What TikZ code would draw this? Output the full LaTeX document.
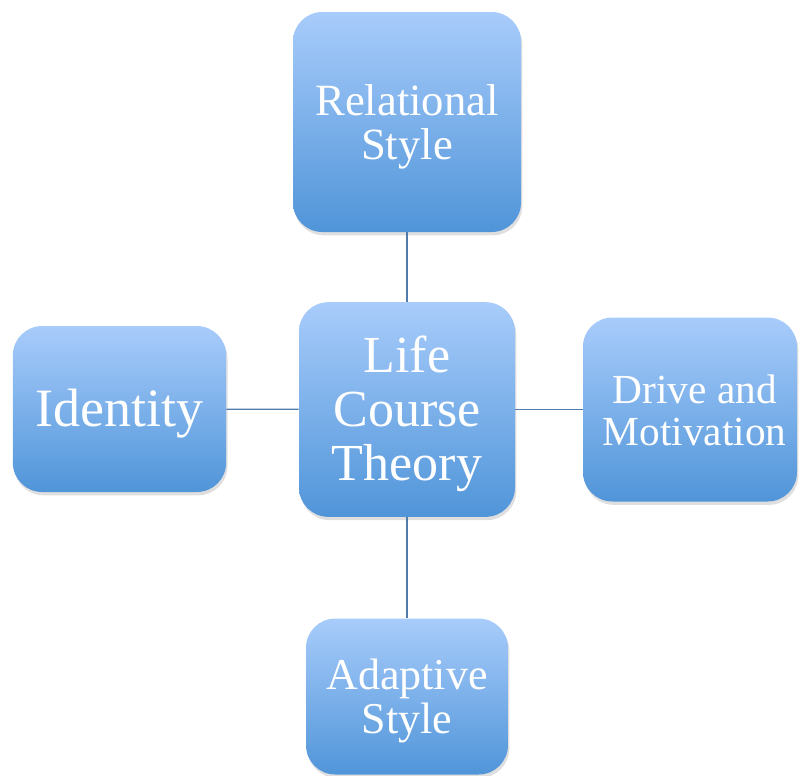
\documentclass[tikz,border=0pt]{standalone}
\usepackage{fontspec}
\setmainfont{Liberation Serif}
\usetikzlibrary{shadows}
\definecolor{boxtop}{RGB}{168,204,251}
\definecolor{boxbottom}{RGB}{80,149,217}
\definecolor{linkline}{RGB}{79,124,170}
\newcommand{\topictext}[1]{\raisebox{-5pt}[\height][\depth]{\begin{tabular}{@{}c@{}}#1\end{tabular}}}
\begin{document}
\begin{tikzpicture}[x=0.75pt,y=0.75pt,yscale=-1,xscale=1,
    topic/.style={rounded corners=22pt, top color=boxtop, bottom color=boxbottom, draw=none,
        text=white, inner sep=0pt,
        drop shadow={opacity=0.25, shadow xshift=1pt, shadow yshift=-2.5pt}},
    link/.style={draw=linkline, line width=1pt}]
    \useasboundingbox (0,0) rectangle (799,775);
    % centre and the four topics
    \node [topic, minimum width=162pt, minimum height=161pt, font=\fontsize{39}{40.5}\selectfont] (life) at (407,409.5) {\topictext{Life\\Course\\Theory}};
    \node [topic, minimum width=171pt, minimum height=165pt, font=\fontsize{33.5}{32.5}\selectfont] (relational) at (407,122) {\topictext{Relational\\Style}};
    \node [topic, minimum width=160pt, minimum height=124.5pt, font=\fontsize{40.5}{40}\selectfont] (identity) at (119.5,409) {\topictext{Identity}};
    \node [topic, minimum width=160.5pt, minimum height=138pt, font=\fontsize{31}{31.5}\selectfont] (drive) at (690,409.5) {\topictext{\hspace*{7pt}Drive and\\\hspace*{7pt}Motivation}};
    \node [topic, minimum width=151.5pt, minimum height=117pt, font=\fontsize{33}{33}\selectfont] (adaptive) at (407,696.5) {\topictext{Adaptive\\Style}};
    % links
    \draw [link] (relational) -- (life);
    \draw [link] (identity) -- (life);
    \draw [link] (life) -- (drive);
    \draw [link] (life) -- (adaptive);
\end{tikzpicture}
\end{document}
